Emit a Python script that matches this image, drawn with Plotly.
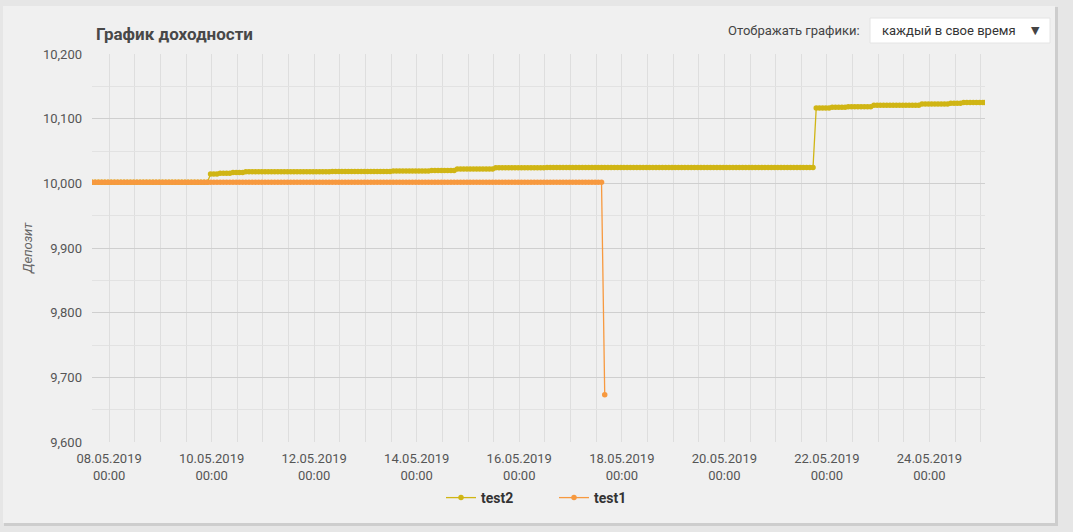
import numpy as np
import pandas as pd
import plotly.graph_objects as go

# ---------------- data ----------------
series_names = ["test2", "test1"]

# test2: step levels (start time of each level, value)
test2_starts = [
    "2019-05-07 16:00", "2019-05-09 23:00", "2019-05-10 04:00", "2019-05-10 10:00",
    "2019-05-10 16:00", "2019-05-12 08:00", "2019-05-13 12:00", "2019-05-14 06:00",
    "2019-05-14 18:00", "2019-05-15 13:00", "2019-05-16 12:00", "2019-05-21 19:00",
    "2019-05-22 02:00", "2019-05-22 10:00", "2019-05-22 22:00", "2019-05-23 20:00",
    "2019-05-24 10:00", "2019-05-24 16:00",
]
test2_levels = [
    10001.6, 10014.4, 10015.5, 10016.8,
    10017.8, 10018.3, 10019.0, 10019.8,
    10022.0, 10024.2, 10024.6, 10116.5,
    10117.8, 10118.6, 10120.8, 10122.8,
    10123.8, 10125.0,
]
test2_end = "2019-05-25 02:00"

# test1: step levels
test1_starts = ["2019-05-07 16:00", "2019-05-17 16:00"]
test1_levels = [10001.6, 9673.0]
test1_end = "2019-05-17 16:00"

sample_freq = "90min"

y_ticks = [9600, 9700, 9800, 9900, 10000, 10100, 10200]
x_tick_start = "2019-05-08"
x_tick_end = "2019-05-24"


def expand(starts, levels, end):
    t = pd.date_range(starts[0], end, freq=sample_freq)
    if t[-1] != pd.Timestamp(end):
        t = t.append(pd.DatetimeIndex([pd.Timestamp(end)]))
    st = pd.to_datetime(starts)
    idx = np.searchsorted(st.values, t.values, side="right") - 1
    return t, np.asarray(levels)[idx]


t2, v2 = expand(test2_starts, test2_levels, test2_end)
t1, v1 = expand(test1_starts, test1_levels, test1_end)

YELLOW = "#d0b514"
ORANGE = "#f7993f"

fig = go.Figure()
fig.add_trace(go.Scatter(
    x=t2, y=v2, name=series_names[0], mode="lines+markers",
    line=dict(color=YELLOW, width=1.3),
    marker=dict(color=YELLOW, size=5.5),
))
fig.add_trace(go.Scatter(
    x=t1, y=v1, name=series_names[1], mode="lines+markers",
    line=dict(color=ORANGE, width=1.3),
    marker=dict(color=ORANGE, size=5.5),
))

W, H = 1073, 532
L, R, T, B = 92, 985, 54, 442


def px(x):
    return (x - L) / (R - L)


def py(y):
    return (B - y) / (B - T)


shapes = [
    # card shadow
    dict(type="rect", xref="paper", yref="paper", x0=px(4), x1=px(1058), y0=py(526), y1=py(7),
         fillcolor="#cdcdcd", line=dict(width=0), layer="below"),
    # card
    dict(type="rect", xref="paper", yref="paper", x0=px(3), x1=px(1055), y0=py(523), y1=py(6),
         fillcolor="#f0f0f0", line=dict(width=0), layer="below"),
    # dropdown box
    dict(type="rect", xref="paper", yref="paper", x0=px(870), x1=px(1050), y0=py(43), y1=py(18),
         fillcolor="#ffffff", line=dict(color="#e4e4e4", width=1), layer="above"),
]

annotations = [
    dict(text="<b>График доходности</b>", xref="paper", yref="paper", x=px(94), y=py(34),
         xanchor="left", yanchor="middle", showarrow=False,
         font=dict(family="Roboto", size=17, color="#484848")),
    dict(text="Отображать графики:", xref="paper", yref="paper", x=px(862), y=py(31),
         xanchor="right", yanchor="middle", showarrow=False,
         font=dict(family="Roboto", size=13, color="#444444")),
    dict(text="каждый в свое время", xref="paper", yref="paper", x=px(880), y=py(31),
         xanchor="left", yanchor="middle", showarrow=False,
         font=dict(family="Roboto", size=13, color="#333333")),
    dict(text="▼", xref="paper", yref="paper", x=px(1035), y=py(31),
         xanchor="center", yanchor="middle", showarrow=False,
         font=dict(family="DejaVu Sans", size=11, color="#444444")),
    dict(text="<i>Депозит</i>", xref="paper", yref="paper", x=px(27), y=py(248),
         xanchor="center", yanchor="middle", showarrow=False, textangle=-90,
         font=dict(family="Roboto", size=13, color="#666666")),
]

fig.update_layout(
    width=W, height=H,
    margin=dict(l=L, r=W - R, t=T, b=H - B),
    paper_bgcolor="#e6e6e6",
    plot_bgcolor="rgba(0,0,0,0)",
    shapes=shapes,
    annotations=annotations,
    showlegend=True,
    legend=dict(orientation="h", x=px(441), xanchor="left", y=py(498), yanchor="middle",
                font=dict(family="Roboto", size=14, color="#333333", weight="bold"),
                bgcolor="rgba(0,0,0,0)", itemwidth=30, traceorder="normal",
                entrywidth=68, entrywidthmode="pixels"),
    font=dict(family="Roboto", size=13, color="#555555"),
    hovermode="x",
)

fig.update_xaxes(
    range=[t2[0], t2[-1]],
    tickmode="array",
    tickvals=pd.date_range(x_tick_start, x_tick_end, freq="2D"),
    tickformat="%d.%m.%Y<br>%H:%M",
    tickfont=dict(family="Roboto", size=13, color="#555555"),
    showgrid=True, gridcolor="#dedede", gridwidth=1,
    minor=dict(dtick=12 * 3600 * 1000, tick0="2019-05-08", showgrid=True, gridcolor="#dedede", gridwidth=1),
    showline=False, zeroline=False, ticks="",
    ticklabelstandoff=7,
)

fig.update_yaxes(
    range=[9600, 10200],
    tickmode="array", tickvals=y_ticks,
    tickformat=",d",
    tickfont=dict(family="Roboto", size=13, color="#555555"),
    showgrid=True, gridcolor="#cfcfcf", gridwidth=1,
    minor=dict(dtick=50, showgrid=True, gridcolor="#e2e2e2", gridwidth=1),
    zeroline=False, showline=False, ticks="",
    ticklabelstandoff=9,
)

fig.write_html(
    "out.html",
    config={"displayModeBar": False},
    post_script="document.body.style.margin='0';document.body.style.padding='0';"
                "document.body.style.background='#e6e6e6';",
)
